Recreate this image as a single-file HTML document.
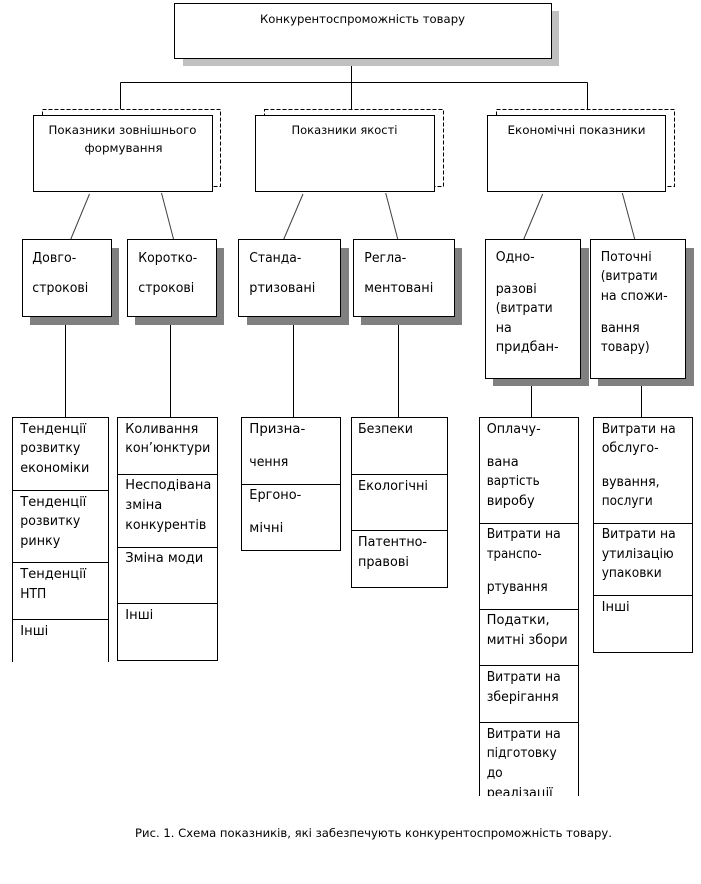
<!DOCTYPE html>
<html lang="uk"><head><meta charset="utf-8"><title>Схема показників</title>
<style>html,body{margin:0;padding:0;background:#fff}svg{display:block}
text{font-family:"DejaVu Sans","Liberation Sans",sans-serif;font-size:13px;fill:#000}
.h text{font-size:11.5px}
.l{stroke:#000;stroke-width:1;fill:none;shape-rendering:crispEdges}
.b{stroke:#000;stroke-width:1;fill:#fff;shape-rendering:crispEdges}
.s{fill:#808080}
.d{stroke:#404040;stroke-width:1;fill:none}
</style></head><body>
<svg xmlns="http://www.w3.org/2000/svg" width="701" height="884" viewBox="0 0 701 884">
<rect width="701" height="884" fill="#fff"/>
<!-- connectors top -->
<path class="l" d="M351.5 66V109M120.5 82.5H587.5M120.5 82.5V109M587.5 82.5V109"/>
<!-- top box -->
<rect x="183" y="11" width="376" height="55" fill="#c0c0c0"/>
<rect class="b" x="174.5" y="3.5" width="377" height="55"/>
<!-- dashed back + headers -->
<rect x="42.5" y="109.5" width="178" height="77" fill="#fff" stroke="#000" stroke-dasharray="4 2" shape-rendering="crispEdges"/>
<rect class="b" x="33.5" y="115.5" width="179" height="76"/>
<rect x="264.5" y="109.5" width="179" height="77" fill="#fff" stroke="#000" stroke-dasharray="4 2" shape-rendering="crispEdges"/>
<rect class="b" x="255.5" y="115.5" width="179" height="76"/>
<rect x="496.5" y="109.5" width="178" height="77" fill="#fff" stroke="#000" stroke-dasharray="4 2" shape-rendering="crispEdges"/>
<rect class="b" x="487.5" y="115.5" width="178" height="76"/>
<!-- diagonals -->
<path class="d" d="M89.5 194L70 241M161.5 193L173.5 239M303 194L283 241M385.7 193L397.7 239M542.7 194L523 241M622.3 193L634.7 239"/>
<!-- verticals to lists -->
<path class="l" d="M65.5 325V417M170.5 325V417M293.5 325V417M398.5 325V417M531.5 386V417M641.5 386V417"/>
<!-- sub boxes -->
<rect class="s" x="30" y="248" width="89" height="77"/><rect class="b" x="22.5" y="239.5" width="89" height="77"/>
<rect class="s" x="135" y="248" width="89" height="77"/><rect class="b" x="127.5" y="239.5" width="89" height="77"/>
<rect class="s" x="247" y="248" width="102" height="77"/><rect class="b" x="238.5" y="239.5" width="102" height="77"/>
<rect class="s" x="361" y="248" width="101" height="77"/><rect class="b" x="353.5" y="239.5" width="101" height="77"/>
<rect class="s" x="493" y="248" width="96" height="138"/><rect class="b" x="485.5" y="239.5" width="95" height="139"/>
<rect class="s" x="598" y="248" width="96" height="138"/><rect class="b" x="590.5" y="239.5" width="95" height="139"/>
<!-- lists -->
<path class="l" d="M12.5 662V417.5H108.5V662M12.5 490.5H108.5M12.5 562.5H108.5M12.5 619.5H108.5"/>
<path class="b" d="M117.5 417.5H217.5V660.5H117.5ZM117.5 474.5H217.5M117.5 547.5H217.5M117.5 603.5H217.5"/>
<path class="b" d="M241.5 417.5H340.5V550.5H241.5ZM241.5 484.5H340.5"/>
<path class="b" d="M351.5 417.5H447.5V587.5H351.5ZM351.5 474.5H447.5M351.5 530.5H447.5"/>
<path class="l" d="M479.5 796V417.5H578.5V796M479.5 523.5H578.5M479.5 609.5H578.5M479.5 665.5H578.5M479.5 722.5H578.5"/>
<path class="b" d="M593.5 417.5H692.5V652.5H593.5ZM593.5 523.5H692.5M593.5 595.5H692.5"/>
<!-- headers -->
<g class="h">
<text x="260" y="23" textLength="205" lengthAdjust="spacingAndGlyphs">Конкурентоспроможність товару</text>
<text x="48.5" y="134" textLength="148" lengthAdjust="spacingAndGlyphs">Показники зовнішнього</text>
<text x="84.5" y="152" textLength="78" lengthAdjust="spacingAndGlyphs">формування</text>
<text x="291.5" y="134" textLength="106" lengthAdjust="spacingAndGlyphs">Показники якості</text>
<text x="507.5" y="134" textLength="138" lengthAdjust="spacingAndGlyphs">Економічні показники</text>
<text x="135" y="837" textLength="477" lengthAdjust="spacingAndGlyphs">Рис. 1. Схема показників, які забезпечують конкурентоспроможність товару.</text>
</g>
<!-- sub box text -->
<text x="32.3" y="262" textLength="44" lengthAdjust="spacingAndGlyphs">Довго-</text>
<text x="32.3" y="292" textLength="56" lengthAdjust="spacingAndGlyphs">строкові</text>
<text x="138.3" y="262" textLength="59" lengthAdjust="spacingAndGlyphs">Коротко-</text>
<text x="138.3" y="292" textLength="56" lengthAdjust="spacingAndGlyphs">строкові</text>
<text x="249.3" y="262" textLength="52" lengthAdjust="spacingAndGlyphs">Станда-</text>
<text x="249.3" y="292" textLength="66" lengthAdjust="spacingAndGlyphs">ртизовані</text>
<text x="364.3" y="262" textLength="42" lengthAdjust="spacingAndGlyphs">Регла-</text>
<text x="364.3" y="292" textLength="69" lengthAdjust="spacingAndGlyphs">ментовані</text>
<text x="495.7" y="261" textLength="39" lengthAdjust="spacingAndGlyphs">Одно-</text>
<text x="495.7" y="293" textLength="41" lengthAdjust="spacingAndGlyphs">разові</text>
<text x="495.7" y="312" textLength="57" lengthAdjust="spacingAndGlyphs">(витрати</text>
<text x="495.7" y="332" textLength="16" lengthAdjust="spacingAndGlyphs">на</text>
<text x="495.7" y="351" textLength="63" lengthAdjust="spacingAndGlyphs">придбан-</text>
<text x="600.7" y="261" textLength="51" lengthAdjust="spacingAndGlyphs">Поточні</text>
<text x="600.7" y="280" textLength="57" lengthAdjust="spacingAndGlyphs">(витрати</text>
<text x="600.7" y="300" textLength="67" lengthAdjust="spacingAndGlyphs">на спожи-</text>
<text x="600.7" y="332" textLength="39" lengthAdjust="spacingAndGlyphs">вання</text>
<text x="600.7" y="351" textLength="49" lengthAdjust="spacingAndGlyphs">товару)</text>
<!-- list A -->
<text x="20.3" y="433" textLength="66" lengthAdjust="spacingAndGlyphs">Тенденції</text>
<text x="20.3" y="452" textLength="60" lengthAdjust="spacingAndGlyphs">розвитку</text>
<text x="20.3" y="472" textLength="69" lengthAdjust="spacingAndGlyphs">економіки</text>
<text x="20.3" y="506" textLength="66" lengthAdjust="spacingAndGlyphs">Тенденції</text>
<text x="20.3" y="525" textLength="60" lengthAdjust="spacingAndGlyphs">розвитку</text>
<text x="20.3" y="545" textLength="40" lengthAdjust="spacingAndGlyphs">ринку</text>
<text x="20.3" y="578" textLength="66" lengthAdjust="spacingAndGlyphs">Тенденції</text>
<text x="20.3" y="598" textLength="26" lengthAdjust="spacingAndGlyphs">НТП</text>
<text x="20.3" y="635" textLength="28" lengthAdjust="spacingAndGlyphs">Інші</text>
<!-- list B -->
<text x="125.3" y="433" textLength="73" lengthAdjust="spacingAndGlyphs">Коливання</text>
<text x="125.3" y="452" textLength="85" lengthAdjust="spacingAndGlyphs">кон’юнктури</text>
<text x="125.3" y="489" textLength="86" lengthAdjust="spacingAndGlyphs">Несподівана</text>
<text x="125.3" y="509" textLength="37" lengthAdjust="spacingAndGlyphs">зміна</text>
<text x="125.3" y="529" textLength="81" lengthAdjust="spacingAndGlyphs">конкурентів</text>
<text x="125.3" y="562" textLength="78" lengthAdjust="spacingAndGlyphs">Зміна моди</text>
<text x="125.3" y="619" textLength="28" lengthAdjust="spacingAndGlyphs">Інші</text>
<!-- list C -->
<text x="249.3" y="433" textLength="56" lengthAdjust="spacingAndGlyphs">Призна-</text>
<text x="249.3" y="466" textLength="39" lengthAdjust="spacingAndGlyphs">чення</text>
<text x="249.3" y="499" textLength="52" lengthAdjust="spacingAndGlyphs">Ергоно-</text>
<text x="249.3" y="532" textLength="34" lengthAdjust="spacingAndGlyphs">мічні</text>
<!-- list D -->
<text x="358" y="433" textLength="55" lengthAdjust="spacingAndGlyphs">Безпеки</text>
<text x="358" y="490" textLength="70" lengthAdjust="spacingAndGlyphs">Екологічні</text>
<text x="358" y="546" textLength="69" lengthAdjust="spacingAndGlyphs">Патентно-</text>
<text x="358" y="566" textLength="51" lengthAdjust="spacingAndGlyphs">правові</text>
<!-- list E -->
<text x="486.7" y="433" textLength="54" lengthAdjust="spacingAndGlyphs">Оплачу-</text>
<text x="486.7" y="466" textLength="32" lengthAdjust="spacingAndGlyphs">вана</text>
<text x="486.7" y="485" textLength="53" lengthAdjust="spacingAndGlyphs">вартість</text>
<text x="486.7" y="505" textLength="48" lengthAdjust="spacingAndGlyphs">виробу</text>
<text x="486.7" y="538" textLength="74" lengthAdjust="spacingAndGlyphs">Витрати на</text>
<text x="486.7" y="558" textLength="55" lengthAdjust="spacingAndGlyphs">транспо-</text>
<text x="486.7" y="591" textLength="61" lengthAdjust="spacingAndGlyphs">ртування</text>
<text x="486.7" y="624" textLength="63" lengthAdjust="spacingAndGlyphs">Податки,</text>
<text x="486.7" y="644" textLength="81" lengthAdjust="spacingAndGlyphs">митні збори</text>
<text x="486.7" y="681" textLength="74" lengthAdjust="spacingAndGlyphs">Витрати на</text>
<text x="486.7" y="701" textLength="72" lengthAdjust="spacingAndGlyphs">зберігання</text>
<text x="486.7" y="738" textLength="74" lengthAdjust="spacingAndGlyphs">Витрати на</text>
<text x="486.7" y="757" textLength="70" lengthAdjust="spacingAndGlyphs">підготовку</text>
<text x="486.7" y="777" textLength="16" lengthAdjust="spacingAndGlyphs">до</text>
<text x="486.7" y="797" textLength="66" lengthAdjust="spacingAndGlyphs">реалізації</text>
<rect x="470" y="796" width="120" height="12" fill="#fff"/>
<!-- list F -->
<text x="601.7" y="433" textLength="74" lengthAdjust="spacingAndGlyphs">Витрати на</text>
<text x="601.7" y="452" textLength="57" lengthAdjust="spacingAndGlyphs">обслуго-</text>
<text x="601.7" y="486" textLength="58" lengthAdjust="spacingAndGlyphs">вування,</text>
<text x="601.7" y="505" textLength="51" lengthAdjust="spacingAndGlyphs">послуги</text>
<text x="601.7" y="538" textLength="74" lengthAdjust="spacingAndGlyphs">Витрати на</text>
<text x="601.7" y="558" textLength="72" lengthAdjust="spacingAndGlyphs">утилізацію</text>
<text x="601.7" y="577" textLength="60" lengthAdjust="spacingAndGlyphs">упаковки</text>
<text x="601.7" y="611" textLength="28" lengthAdjust="spacingAndGlyphs">Інші</text>
</svg>
</body></html>
